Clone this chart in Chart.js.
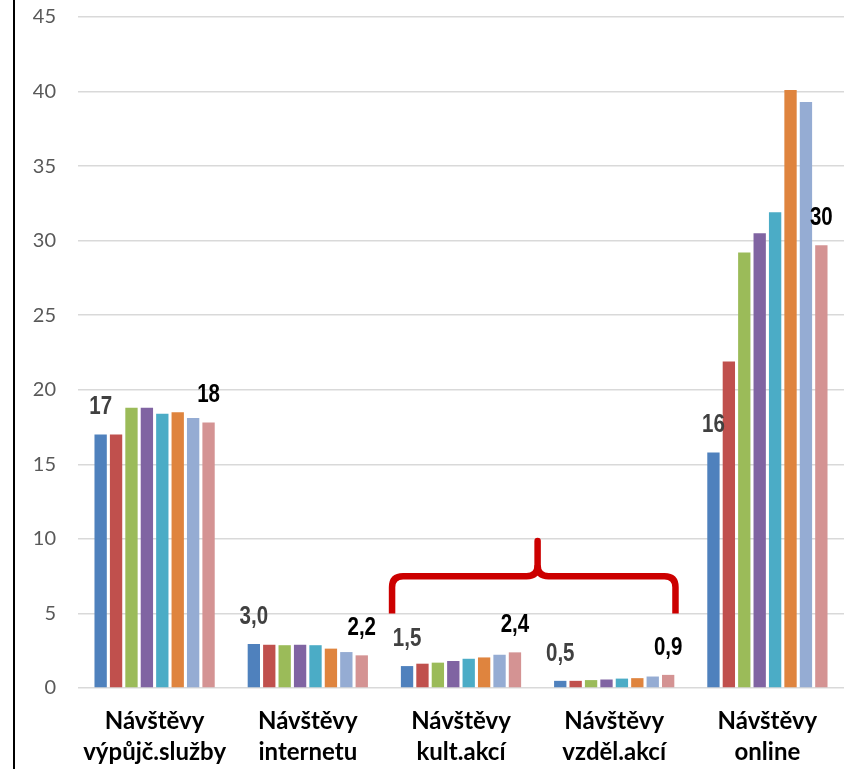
<!DOCTYPE html>
<html>
<head>
<meta charset="utf-8">
<script src="https://cdn.jsdelivr.net/npm/chart.js@4.4.1/dist/chart.umd.min.js"></script>
<style>
    html, body { margin: 0; padding: 0; background: #fff; }
    #wrap { position: relative; width: 844px; height: 769px; }
    #leftLine { position: absolute; left: 13px; top: 0; width: 2px; height: 769px; background: #000; }
    canvas { position: absolute; left: 0; top: 0; }
</style>
</head>
<body>
<div id="wrap">
    <canvas id="chart" width="844" height="769"></canvas>
    <div id="leftLine"></div>
</div>
<script>
// Kategorie (osa x)
const kategorie = [
    ['Návštěvy', 'výpůjč.služby'],
    ['Návštěvy', 'internetu'],
    ['Návštěvy', 'kult.akcí'],
    ['Návštěvy', 'vzděl.akcí'],
    ['Návštěvy', 'online']
];

// Hodnoty jednotlivých řad (8 sloupců v každé kategorii)
const rada1 = [17.0, 2.95, 1.47, 0.48, 15.8];
const rada2 = [17.0, 2.90, 1.63, 0.48, 21.9];
const rada3 = [18.8, 2.87, 1.70, 0.53, 29.2];
const rada4 = [18.8, 2.90, 1.81, 0.57, 30.5];
const rada5 = [18.4, 2.87, 1.96, 0.63, 31.9];
const rada6 = [18.5, 2.64, 2.05, 0.66, 40.1];
const rada7 = [18.1, 2.41, 2.23, 0.77, 39.3];
const rada8 = [17.8, 2.19, 2.39, 0.88, 29.7];

const barvy = ['#4f81bd', '#c0504d', '#9bbb59', '#8064a2', '#4bacc6', '#df843e', '#95acd3', '#d49393'];

// Počet desetinných míst u popisků podle kategorie
const desetinna = [0, 1, 1, 1, 0];

// Červená složená závorka (v jednotkách os)
const zavorkaOd = 1.55;
const zavorkaDo = 3.40;
const zavorkaStred = 2.5;
const zavorkaSpodek = 5;
const zavorkaVodorovna = 7.5;
const zavorkaSpicka = 10;

const rady = [rada1, rada2, rada3, rada4, rada5, rada6, rada7, rada8];

// Popisky nad prvním a posledním sloupcem (zúžené písmo)
const popiskyPlugin = {
    id: 'popisky',
    afterDatasetsDraw(chart) {
        const ctx = chart.ctx;
        [0, rady.length - 1].forEach((di, k) => {
            const meta = chart.getDatasetMeta(di);
            meta.data.forEach((bar, i) => {
                const text = rady[di][i].toFixed(desetinna[i]).replace('.', ',');
                ctx.save();
                ctx.translate(bar.x, bar.y - 27);
                ctx.scale(0.82, 1);
                ctx.font = 'bold 25px "Liberation Sans", Arial';
                ctx.textAlign = 'center';
                ctx.textBaseline = 'middle';
                ctx.fillStyle = k === 0 ? '#404040' : '#000000';
                ctx.fillText(text, 0, 0);
                ctx.restore();
            });
        });
    }
};

// Závorka nad kategoriemi kult. a vzděl. akcí
const zavorkaPlugin = {
    id: 'zavorka',
    afterDatasetsDraw(chart) {
        const x = chart.scales.x;
        const y = chart.scales.y;
        const ctx = chart.ctx;
        const x1 = x.getPixelForValue(zavorkaOd);
        const x2 = x.getPixelForValue(zavorkaDo);
        const xm = x.getPixelForValue(zavorkaStred);
        const yb = y.getPixelForValue(zavorkaSpodek);
        const yh = y.getPixelForValue(zavorkaVodorovna);
        const yt = y.getPixelForValue(zavorkaSpicka);
        const r = 11;
        ctx.save();
        ctx.strokeStyle = '#cc0000';
        ctx.lineWidth = 6.5;
        ctx.lineJoin = 'round';
        ctx.lineCap = 'butt';
        ctx.beginPath();
        ctx.moveTo(x1, yb);
        ctx.lineTo(x1, yh + r);
        ctx.quadraticCurveTo(x1, yh, x1 + r, yh);
        ctx.lineTo(xm - r, yh);
        ctx.quadraticCurveTo(xm, yh, xm, yh - r);
        ctx.moveTo(xm, yh - r);
        ctx.quadraticCurveTo(xm, yh, xm + r, yh);
        ctx.lineTo(x2 - r, yh);
        ctx.quadraticCurveTo(x2, yh, x2, yh + r);
        ctx.lineTo(x2, yb);
        ctx.stroke();
        ctx.lineCap = 'round';
        ctx.beginPath();
        ctx.moveTo(xm, yh - r);
        ctx.lineTo(xm, yt + 2);
        ctx.stroke();
        ctx.restore();
    }
};

new Chart(document.getElementById('chart').getContext('2d'), {
    type: 'bar',
    data: {
        labels: kategorie,
        datasets: rady.map((r, i) => ({
            data: r,
            backgroundColor: barvy[i],
            borderWidth: 0,
            categoryPercentage: 0.805,
            barPercentage: 0.8
        }))
    },
    options: {
        responsive: false,
        animation: false,
        layout: { padding: { top: 17, left: 0, right: 0, bottom: 0 } },
        plugins: {
            legend: { display: false },
            tooltip: { enabled: false }
        },
        scales: {
            x: {
                grid: { display: false },
                border: { display: false },
                ticks: {
                    color: '#000',
                    font: { family: 'Lato', size: 24, weight: 'bold', lineHeight: 1.28 },
                    padding: 10,
                    maxRotation: 0,
                    autoSkip: false
                },
                afterFit(scale) { scale.height = 81; }
            },
            y: {
                min: 0,
                max: 45,
                grid: { color: '#d9d9d9', lineWidth: 1.5, drawTicks: false },
                border: { display: false },
                ticks: {
                    stepSize: 5,
                    color: '#595959',
                    font: { family: 'Lato', size: 20 },
                    padding: 22
                },
                afterFit(scale) {
                    scale.width = 78;
                    scale.paddingTop = 0;
                    scale.paddingBottom = 0;
                }
            }
        }
    },
    plugins: [popiskyPlugin, zavorkaPlugin]
});
</script>
</body>
</html>
